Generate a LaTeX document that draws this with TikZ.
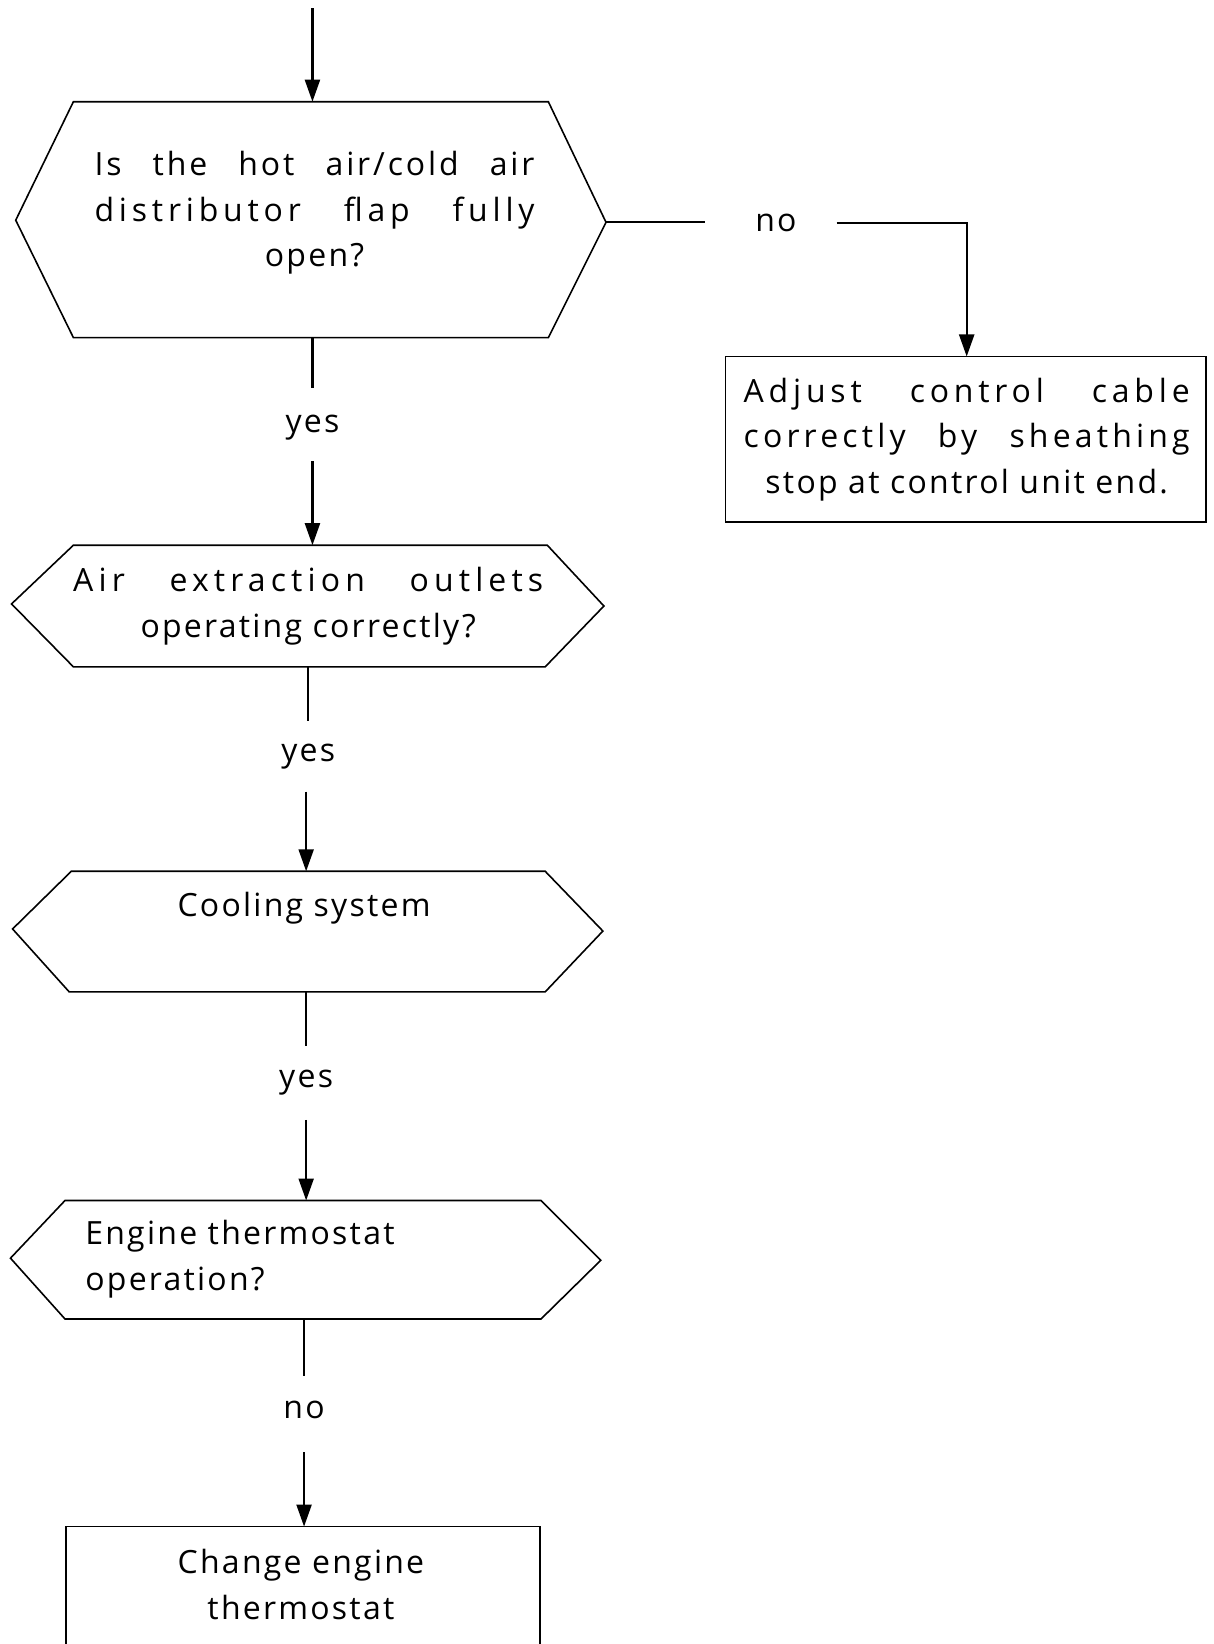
\documentclass[tikz,border=0pt]{standalone}
\usepackage{fontspec}
\setmainfont[LetterSpace=7]{Open Sans}
\usetikzlibrary{arrows.meta}
\newcommand\jline[3]{\makebox[#1][s]{\addfontfeature{LetterSpace=#2}#3}}
\begin{document}
\begin{tikzpicture}[x=0.5242pt,y=-0.5242pt,
  outline/.style={line width=0.8pt, line join=miter},
  conn/.style={line width=1.1pt},
  arr/.style={conn,-{Triangle[length=11pt,width=7.5pt]}},
  txt/.style={inner sep=0pt, font=\fontsize{16}{22.8}\selectfont, align=center},
  lbl/.style={inner sep=0pt, font=\fontsize{16}{22.8}\selectfont}]
\clip (0,0) rectangle (1157,1568);
\fill[white] (0,0) rectangle (1157,1568);

% ---- shapes ----
% hexagon 1
\draw[outline] (70,97) -- (523,97) -- (578,212) -- (523,322) -- (70,322) -- (15,210) -- cycle;
\coordinate (h1t) at (298,97);
\coordinate (h1b) at (298,322);
\coordinate (h1r) at (578,212);
\node[txt] (q1) at (300,203) {\jline{220pt}{9}{Is the hot air/cold air}\\\jline{220pt}{15}{distributor flap fully}\\open?};

% box: adjust control cable
\draw[outline] (692,340) rectangle (1150,498);
\coordinate (a1t) at (922,340);
\node[txt] (a1) at (922,419) {\jline{223pt}{15}{Adjust control cable}\\\jline{223pt}{13}{correctly by sheathing}\\stop at control unit end.};

% hexagon 2
\draw[outline] (70,520) -- (522,520) -- (576,578) -- (520,636) -- (70,636) -- (11,576) -- cycle;
\coordinate (h2t) at (298,520);
\coordinate (h2b) at (294,636);
\node[txt] (q2) at (294,578) {\jline{235pt}{16}{Air extraction outlets}\\operating correctly?};

% hexagon 3
\draw[outline] (68,831) -- (520,831) -- (575,888) -- (520,946) -- (66,946) -- (12,886) -- cycle;
\coordinate (h3t) at (292,831);
\coordinate (h3b) at (292,946);
\node[txt] (q3) at (290,866) {Cooling system};

% hexagon 4
\draw[outline] (62,1145) -- (516,1145) -- (573,1202) -- (516,1258) -- (62,1258) -- (10,1200) -- cycle;
\coordinate (h4t) at (292,1145);
\coordinate (h4b) at (290,1258);
\node[txt, align=left, anchor=west] (q4) at (81,1201) {Engine thermostat\\operation?};

% box: change engine thermostat (cut off at bottom)
\draw[outline] (63,1600) -- (63,1456) -- (515,1456) -- (515,1600);
\coordinate (b5t) at (290,1456);
\node[txt] (q5) at (287,1511) {Change engine\\thermostat};

% ---- connectors ----
\coordinate (s0) at (298,8);
\draw[arr] (s0) -- (h1t);

% no branch
\coordinate (n1a) at (672,212);
\node[lbl] (no1) at (740,213) {no};
\coordinate (n1b) at (798,213);
\coordinate (n1c) at (922,213);
\draw[conn] (h1r) -- (n1a);
\draw[arr] (n1b) -- (n1c) -- (a1t);

% yes 1
\coordinate (y1a) at (298,370);
\node[lbl] (yes1) at (298,408) {yes};
\coordinate (y1b) at (298,440);
\draw[conn] (h1b) -- (y1a);
\draw[arr] (y1b) -- (h2t);

% yes 2
\coordinate (y2a) at (294,688);
\node[lbl] (yes2) at (294,722) {yes};
\coordinate (y2b) at (292,755);
\draw[conn] (h2b) -- (y2a);
\draw[arr] (y2b) -- (h3t);

% yes 3
\coordinate (y3a) at (292,998);
\node[lbl] (yes3) at (292,1033) {yes};
\coordinate (y3b) at (292,1068);
\draw[conn] (h3b) -- (y3a);
\draw[arr] (y3b) -- (h4t);

% no 2
\coordinate (n2a) at (290,1312);
\node[lbl] (no2) at (290,1345) {no};
\coordinate (n2b) at (290,1385);
\draw[conn] (h4b) -- (n2a);
\draw[arr] (n2b) -- (b5t);
\end{tikzpicture}
\end{document}
